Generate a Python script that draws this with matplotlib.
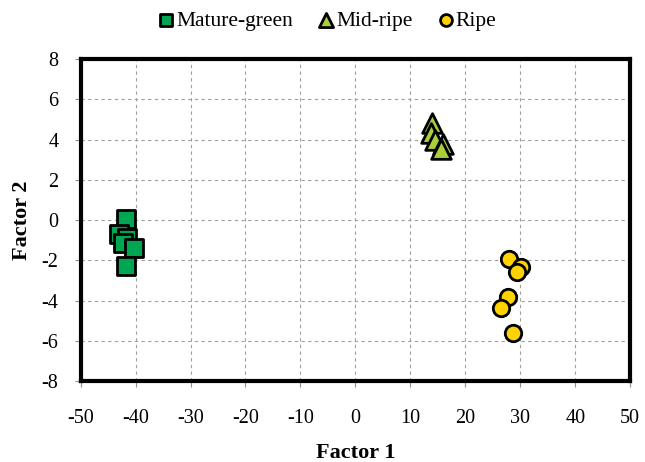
import matplotlib.pyplot as plt

plt.rcParams['font.family'] = ['Liberation Serif', 'DejaVu Serif']
plt.rcParams['axes.unicode_minus'] = False

# 读图估计的数据
mature_x = [-41.8, -43.0, -41.5, -42.2, -40.3, -41.8]
mature_y = [0.07, -0.70, -0.90, -1.12, -1.38, -2.27]
mid_x = [13.9, 13.7, 14.4, 15.9, 15.6]
mid_y = [4.84, 4.35, 3.98, 3.76, 3.55]
ripe_x = [27.9, 30.1, 29.4, 27.7, 26.5, 28.6]
ripe_y = [-1.93, -2.35, -2.58, -3.80, -4.38, -5.62]

x_ticks = list(range(-50, 51, 10))
y_ticks = list(range(-8, 9, 2))

fig = plt.figure(figsize=(6.45, 4.62), dpi=100)
ax = fig.add_axes([0.125, 0.175, 0.852, 0.697])

ax.scatter(mature_x, mature_y, marker='s', s=150, color='#00A652', edgecolor='black',
           linewidth=2, label='Mature-green', zorder=3)
ax.scatter(mid_x, mid_y, marker='^', s=200, color='#A9CF3B', edgecolor='black',
           linewidth=2, label='Mid-ripe', zorder=3)
ax.scatter(ripe_x, ripe_y, marker='o', s=140, color='#FFD200', edgecolor='black',
           linewidth=2, label='Ripe', zorder=3)

ax.set_xlim(-50, 50)
ax.set_ylim(-8, 8)
ax.set_xticks(x_ticks)
ax.set_yticks(y_ticks)
ax.grid(True, color='#A0A0A0', linestyle=(0, (3, 3)), linewidth=0.8)
ax.tick_params(direction='out', length=4, width=0.8, color='#909090', labelsize=14.5)
ax.tick_params(axis='x', pad=16)
ax.tick_params(axis='y', pad=12)
for sp in ax.spines.values():
    sp.set_linewidth(3)
    sp.set_color('black')

ax.set_xlabel('Factor 1', fontsize=16, fontweight='bold', labelpad=11)
ax.set_ylabel('Factor 2', fontsize=16, fontweight='bold', labelpad=7)

leg = fig.legend(loc='upper center', bbox_to_anchor=(0.497, 1.018), ncol=3, frameon=False,
                 fontsize=15.5, handletextpad=-0.55, columnspacing=0.55, markerscale=0.72)

fig.savefig('out.png', dpi=100)
